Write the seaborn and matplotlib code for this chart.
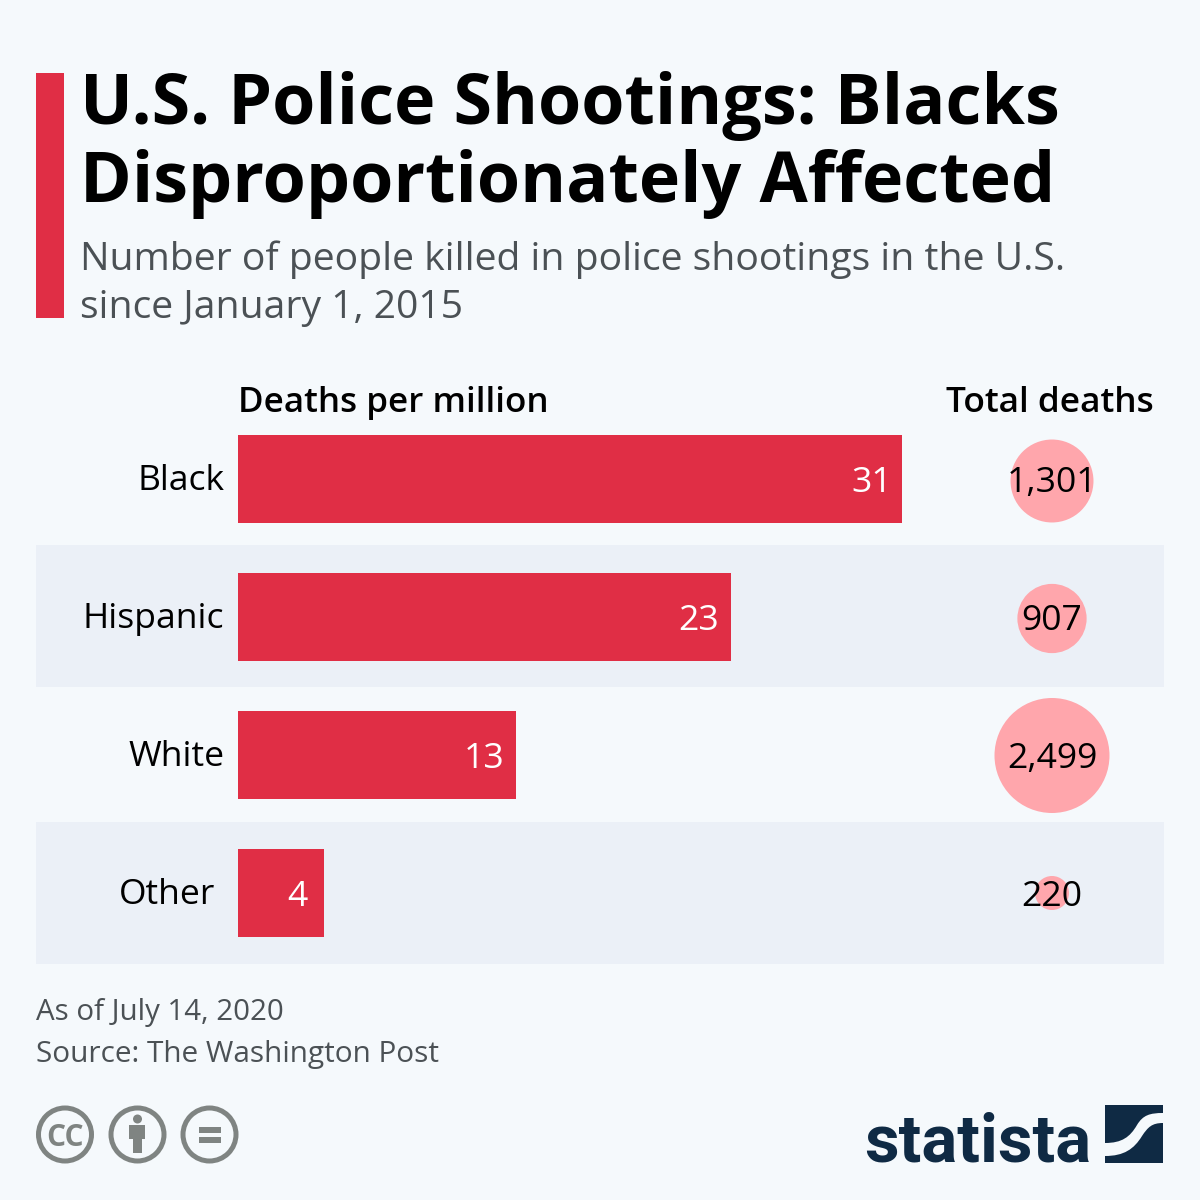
# plot.py - police shootings infographic

import matplotlib
matplotlib.use("Agg")
import matplotlib.pyplot as plt
from matplotlib.patches import Circle, PathPatch, Rectangle
from matplotlib.path import Path
from matplotlib.transforms import Affine2D
import pandas as pd
import seaborn as sns

# --- DATA ---
GROUPS = ["Black", "Hispanic", "White", "Other"]
DEATHS_PER_MILLION = [31, 23, 13, 4]
TOTAL_DEATHS = [1301, 907, 2499, 220]
TOTAL_LABELS = ["1,301", "907", "2,499", "220"]

# --- COLOURS ---
BG = "#F5F9FC"
STRIPE = "#EBF0F7"
RED = "#E02E45"
PINK = "#FFA6AC"
GREY_TEXT = "#4B5155"
ICON = "#7F8482"
NAVY = "#0F2A44"

# --- LAYOUT (pixels of the 1200x1200 picture) ---
PX_PER_UNIT = 21.42
BAR_X0 = 238
ROW_Y0 = 479
ROW_STEP = 138
BUBBLE_X = (1052 - BAR_X0) / PX_PER_UNIT
BUBBLE_NUDGE = [2, 1.5, 0.5, 0]
TOTAL_Y = [479.5, 618, 755.5, 893.5]
LABEL_RIGHT = [224.5, 224.5, 224.5, 215]
RATE_PAD = [10, 12, 12, 16]
PT = 0.72  # px to pt at dpi 100

sns.set_theme(style="white")
plt.rcParams["font.family"] = ["Open Sans", "DejaVu Sans"]

fig = plt.figure(figsize=(12, 12), dpi=100, facecolor=BG)
ax = fig.add_axes([0, 0, 1, 1], facecolor="none", zorder=2)
px = Affine2D().scale(1 / 1200, -1 / 1200).translate(0, 1) + fig.transFigure


def text(x, y, s, size, color="black", ha="left", va="baseline", **kw):
    fig.text(x / 1200, 1 - y / 1200, s, fontsize=size * PT, color=color, ha=ha, va=va, zorder=5, **kw)


# stripes behind the rows
for top in (545, 822):
    fig.add_artist(Rectangle((36, top), 1128, 142, transform=px, fc=STRIPE, ec="none", zorder=0))

# bars
df = pd.DataFrame({"group": GROUPS, "rate": DEATHS_PER_MILLION, "total": TOTAL_DEATHS})
sns.barplot(data=df, x="rate", y="group", order=GROUPS, color=RED, saturation=1, width=88 / ROW_STEP,
            linewidth=0, ax=ax, zorder=2)

# bubbles, area follows the total
df["pos"] = [i + n / ROW_STEP for i, n in enumerate(BUBBLE_NUDGE)]
df["x"] = BUBBLE_X
sizes = [(d * PT) ** 2 for d in (34, 115)]
sns.scatterplot(data=df, x="x", y="pos", size="total", sizes=tuple(sizes), size_norm=(220, 2499),
                color=PINK, linewidth=0, legend=False, ax=ax, zorder=3)

ax.set_xlim(-BAR_X0 / PX_PER_UNIT, (1200 - BAR_X0) / PX_PER_UNIT)
ax.set_ylim((1200 - ROW_Y0) / ROW_STEP, -ROW_Y0 / ROW_STEP)
ax.axis("off")

# row texts
for i, (name, rate) in enumerate(zip(GROUPS, DEATHS_PER_MILLION)):
    yc = ROW_Y0 + i * ROW_STEP
    text(LABEL_RIGHT[i], yc + 11, name, 35.5, ha="right")
    text(BAR_X0 + rate * PX_PER_UNIT - RATE_PAD[i], yc + 13, str(rate), 35.5, color="white", ha="right")
    text(1052, TOTAL_Y[i] + 12, TOTAL_LABELS[i], 35.5, ha="center")

# header
fig.add_artist(Rectangle((36, 73), 28, 245, transform=px, fc=RED, ec="none"))
text(80, 124, "U.S. Police Shootings: Blacks", 70, weight="bold")
text(80, 202, "Disproportionately Affected", 70, weight="bold")
text(80, 270, "Number of people killed in police shootings in the U.S.", 39.1, color=GREY_TEXT)
text(80, 318, "since January 1, 2015", 39.1, color=GREY_TEXT)
text(238, 412, "Deaths per million", 35, weight="semibold")
text(1154, 412, "Total deaths", 35.3, ha="right", weight="semibold")

# footer
text(36, 1020, "As of July 14, 2020", 29.5, color=GREY_TEXT)
text(36, 1062, "Source: The Washington Post", 29.7, color=GREY_TEXT)

# licence icons
for cx in (65, 137.5, 209.5):
    fig.add_artist(Circle((cx, 1134.5), 26.5, transform=px, fc="none", ec=ICON, lw=5 * PT))
text(65, 1135, "CC", 30, color=ICON, ha="center", va="center_baseline", weight="bold")
fig.add_artist(Circle((137.5, 1119), 4.5, transform=px, fc=ICON, ec="none"))
fig.add_artist(Rectangle((129, 1125), 16, 14, transform=px, fc=ICON, ec="none"))
fig.add_artist(Rectangle((132.5, 1139), 9.5, 14, transform=px, fc=ICON, ec="none"))
fig.add_artist(Rectangle((199, 1127), 22, 6, transform=px, fc=ICON, ec="none"))
fig.add_artist(Rectangle((199, 1137), 22, 5.5, transform=px, fc=ICON, ec="none"))

# statista logo
text(864, 1161, "statista", 67, color=NAVY, weight="bold", family=["Liberation Sans Narrow", "Roboto"])
fig.add_artist(Rectangle((1105, 1105), 58, 58, transform=px, fc=NAVY, ec="none"))
band = Path(
    [(1105, 1143), (1122, 1143), (1130, 1137), (1137, 1125), (1143, 1115), (1150, 1113), (1163, 1113),
     (1163, 1123), (1152, 1123), (1148, 1127), (1142, 1136), (1134, 1149), (1124, 1156), (1105, 1156), (1105, 1143)],
    [Path.MOVETO, Path.CURVE4, Path.CURVE4, Path.CURVE4, Path.CURVE4, Path.CURVE4, Path.CURVE4,
     Path.LINETO, Path.CURVE4, Path.CURVE4, Path.CURVE4, Path.CURVE4, Path.CURVE4, Path.CURVE4, Path.CLOSEPOLY],
)
fig.add_artist(PathPatch(band, transform=px, fc=BG, ec="none"))

fig.savefig("out.png", dpi=100, facecolor=BG)
